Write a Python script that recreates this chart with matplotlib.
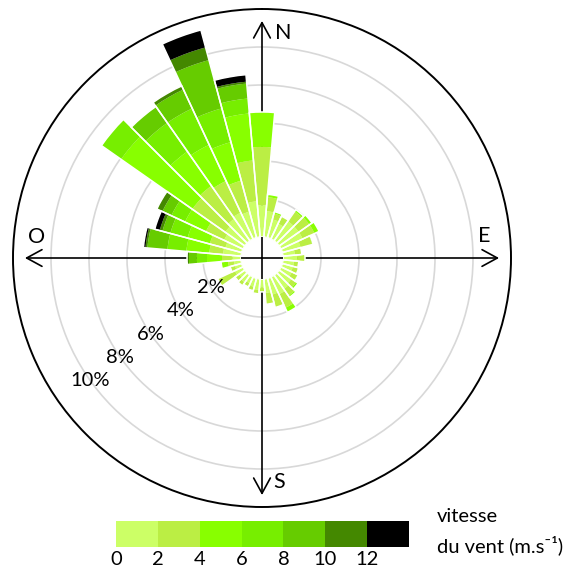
import numpy as np
import matplotlib
matplotlib.use('Agg')
import matplotlib.pyplot as plt

plt.rcParams['font.family'] = ['Lato', 'DejaVu Sans']

# ---------------- data ----------------
directions = np.arange(0, 360, 10)          # degrees, clockwise from North
speed_edges = [0, 2, 4, 6, 8, 10, 12]       # m/s class limits (colour bar labels)
colors = ['#ccff66', '#bbee44', '#88ff00', '#77ee00', '#66cc00', '#448800', '#000000']

#                0     10    20    30    40    50    60    70    80    90    100   110   120   130   140   150   160   170   180   190   200   210   220   230   240   250   260   270   280   290   300   310   320   330   340   350
s0_2   = [1.68, 1.37, 1.00, 0.89, 1.26, 1.26, 1.26, 1.00, 0.63, 0.74, 0.58, 0.58, 0.63, 0.79, 0.89, 1.00, 0.89, 0.74, 0.47, 0.58, 0.47, 0.37, 0.47, 0.37, 0.47, 0.37, 0.37, 0.47, 0.95, 0.89, 1.10, 1.26, 1.42, 1.53, 1.42, 1.89]
s2_4   = [3.06, 0.74, 0.32, 0.43, 0.63, 0.69, 0.69, 0.63, 0.37, 0.42, 0.26, 0.31, 0.32, 0.31, 0.43, 0.79, 0.70, 0.60, 0.21, 0.21, 0.21, 0.21, 0.21, 0.26, 1.00, 0.26, 0.32, 0.53, 0.73, 0.85, 1.06, 2.11, 2.11, 1.84, 1.69, 2.16]
s4_6   = [1.84, 0.15, 0.10, 0.00, 0.11, 0.16, 0.26, 0.05, 0.00, 0.00, 0.00, 0.00, 0.05, 0.11, 0.10, 0.26, 0.00, 0.00, 0.00, 0.00, 0.00, 0.00, 0.00, 0.00, 0.00, 0.00, 0.37, 0.79, 1.21, 1.21, 1.21, 4.58, 2.21, 2.10, 2.10, 2.48]
s6_8   = [0.00, 0.00, 0.00, 0.00, 0.00, 0.00, 0.00, 0.00, 0.00, 0.00, 0.00, 0.00, 0.00, 0.00, 0.00, 0.00, 0.00, 0.00, 0.00, 0.00, 0.00, 0.00, 0.00, 0.00, 0.00, 0.00, 0.00, 0.53, 1.00, 0.94, 0.79, 1.26, 1.84, 2.11, 1.84, 0.79]
s8_10  = [0.00, 0.00, 0.00, 0.00, 0.00, 0.00, 0.00, 0.00, 0.00, 0.00, 0.00, 0.00, 0.00, 0.00, 0.00, 0.00, 0.00, 0.00, 0.00, 0.00, 0.00, 0.00, 0.00, 0.00, 0.00, 0.00, 0.00, 0.42, 1.06, 0.43, 0.52, 0.00, 1.05, 1.10, 2.63, 0.79]
s10_12 = [0.00, 0.00, 0.00, 0.00, 0.00, 0.00, 0.00, 0.00, 0.00, 0.00, 0.00, 0.00, 0.00, 0.00, 0.00, 0.00, 0.00, 0.00, 0.00, 0.00, 0.00, 0.00, 0.00, 0.00, 0.00, 0.00, 0.00, 0.10, 0.10, 0.15, 0.32, 0.00, 0.00, 0.21, 0.69, 0.10]
s12p   = [0.00, 0.00, 0.00, 0.00, 0.00, 0.00, 0.00, 0.00, 0.00, 0.00, 0.00, 0.00, 0.00, 0.00, 0.00, 0.00, 0.00, 0.00, 0.00, 0.00, 0.00, 0.00, 0.00, 0.00, 0.00, 0.00, 0.00, 0.00, 0.11, 0.27, 0.00, 0.00, 0.00, 0.00, 0.95, 0.37]
classes = [s0_2, s2_4, s4_6, s6_8, s8_10, s10_12, s12p]

grid_values = [2, 4, 6, 8, 10]
grid_labels = ['2%', '4%', '6%', '8%', '10%']
label_angles = [239.5, 237.0, 235.5, 235.0, 234.5]
cardinals = ['N', 'E', 'S', 'O']

# ---------------- figure ----------------
W, H = 564, 573
fig = plt.figure(figsize=(W / 100, H / 100), dpi=100)

cx, cy, R = 262, 258, 249
ax = fig.add_axes([(cx - R) / W, (H - cy - R) / H, 2 * R / W, 2 * R / H], projection='polar')
ax.set_theta_zero_location('N')
ax.set_theta_direction(-1)
ax.set_ylim(0, 12.0)
ax.set_rorigin(-21 / 19)

theta = np.deg2rad(directions)
width = np.deg2rad(10)
bottom = np.zeros(len(directions))
for vals, c in zip(classes, colors):
    vals = np.asarray(vals)
    ax.bar(theta, vals, width=width, bottom=bottom, color=c, edgecolor='none',
           linewidth=0, zorder=3)
    bottom = bottom + vals
ax.bar(theta, bottom, width=width, bottom=0, fill=False, edgecolor='white',
       linewidth=1.1, zorder=4)

ax.set_xticks([])
ax.set_yticks(grid_values)
ax.set_yticklabels([])
ax.yaxis.grid(True, color='#d8d8d8', linewidth=1.2)
ax.set_axisbelow(True)
ax.tick_params(length=0)
ax.spines['polar'].set_linewidth(1.4)
ax.spines['polar'].set_color('black')
ax.spines['inner'].set_color('none')

for v, lab, a in zip(grid_values, grid_labels, label_angles):
    ax.text(np.deg2rad(a), v, lab, ha='center', va='center', fontsize=14.5, zorder=6)

# cross with arrows
L = 0.476
for dx, dy in [(0, 1), (0, -1), (1, 0), (-1, 0)]:
    ax.annotate('', xy=(0.5 + L * dx, 0.5 + L * dy), xytext=(0.5, 0.5),
                xycoords='axes fraction', textcoords='axes fraction',
                arrowprops=dict(arrowstyle='->,head_length=0.55,head_width=0.3',
                                lw=1.2, color='black', shrinkA=0, shrinkB=0,
                                mutation_scale=20),
                zorder=2, annotation_clip=False)

card_pos = {'N': (283, 33), 'E': (484, 236), 'S': (279, 482), 'O': (37, 237)}
for c in cardinals:
    px, py = card_pos[c]
    fig.text(px / W, 1 - py / H, c, ha='center', va='center', fontsize=15.5)

# colour bar legend
cax = fig.add_axes([116 / W, (H - 547) / H, 293 / W, 26 / H])
cax.bar(np.arange(0, 14, 2), np.ones(7), width=2, align='edge', color=colors,
        edgecolor='none', linewidth=0)
cax.set_xlim(0, 14)
cax.set_ylim(0, 1)
cax.set_xticks(speed_edges)
cax.set_xticklabels([str(s) for s in speed_edges], fontsize=14.5)
cax.set_yticks([])
cax.tick_params(length=0, pad=3)
for sp in cax.spines.values():
    sp.set_visible(False)

fig.text(437 / W, 1 - 517 / H, 'vitesse', ha='left', va='center', fontsize=14.5)
fig.text(437 / W, 1 - 545 / H, 'du vent (m.s\u207b\u00b9)', ha='left', va='center', fontsize=14.5)

fig.savefig('out.png', dpi=100)
